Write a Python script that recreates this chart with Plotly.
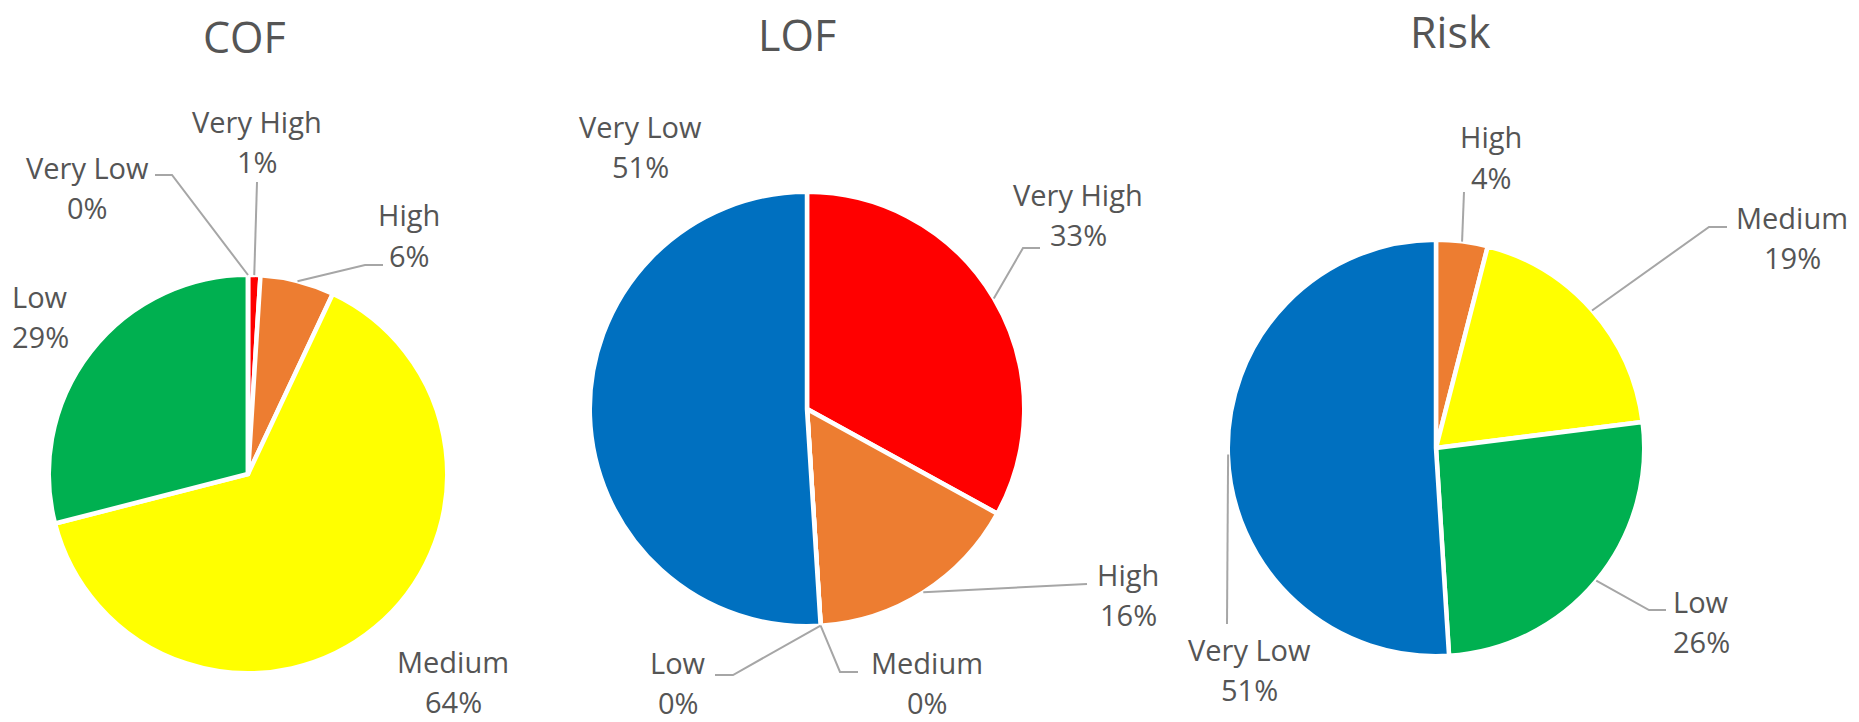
import math
import plotly.graph_objects as go

# ---------------- data ----------------
cof_labels = ["Very High", "High", "Medium", "Low", "Very Low"]
cof_values = [1, 6, 64, 29, 0]

lof_labels = ["Very High", "High", "Medium", "Low", "Very Low"]
lof_values = [33, 16, 0, 0, 51]

risk_labels = ["High", "Medium", "Low", "Very Low"]
risk_values = [4, 19, 26, 51]

titles = ["COF", "LOF", "Risk"]

# ---------------- styles / layout ----------------
W, H = 1859, 722
COLORS = {"Very High": "#FF0000", "High": "#ED7D31", "Medium": "#FFFF00",
          "Low": "#00B050", "Very Low": "#0070C0"}
TXT = "#555555"
LEADER = "#A6A6A6"
FONT = "Open Sans"
BORDER = 4.5
LABEL_SIZE = 29
LINE_GAP = 40

# pie geometry (pixels): center x, center y, visible radius
geom = {
    "COF": (248, 474, 197),
    "LOF": (807, 409, 215),
    "Risk": (1436, 448, 206),
}
title_pos = {"COF": (245, 37), "LOF": (797, 35), "Risk": (1450, 31)}

# label block centers and leader-line bend points (pixels)
label_layout = {
    "COF": {
        "Very High": ((257, 142), [(257, 182)]),
        "High": ((409, 235), [(365, 265), (383, 265)]),
        "Medium": ((453, 681), []),
        "Low": ((40, 316), []),
        "Very Low": ((87, 187), [(172, 175), (155, 175)]),
    },
    "LOF": {
        "Very High": ((1078, 214), [(1023, 248), (1040, 248)]),
        "High": ((1128, 594), [(1087, 584)]),
        "Medium": ((927, 682), [(840, 672), (858, 672)]),
        "Low": ((678, 682), [(733, 675), (715, 675)]),
        "Very Low": ((640, 146), []),
    },
    "Risk": {
        "High": ((1491, 157), [(1464, 192)]),
        "Medium": ((1792, 237), [(1709, 227), (1727, 227)]),
        "Low": ((1701, 621), [(1649, 610), (1666, 610)]),
        "Very Low": ((1249, 669), [(1227, 624)]),
    },
}

charts = [
    ("COF", cof_labels, cof_values),
    ("LOF", lof_labels, lof_values),
    ("Risk", risk_labels, risk_values),
]


def px(x):
    return x / W


def py(y):
    return 1 - y / H


def text_ann(x, y, text, size):
    return dict(x=px(x), y=py(y), xref="paper", yref="paper", text=text,
                showarrow=False, xanchor="center", yanchor="middle",
                font=dict(family=FONT, size=size, color=TXT))


fig = go.Figure()
annotations = []
shapes = []

for name, labels, values in charts:
    cx, cy, r = geom[name]
    rd = r + BORDER / 2
    fig.add_trace(go.Pie(
        labels=labels,
        values=values,
        sort=False,
        direction="clockwise",
        rotation=0,
        textinfo="none",
        marker=dict(colors=[COLORS[l] for l in labels],
                    line=dict(color="white", width=BORDER)),
        domain=dict(x=[px(cx - rd), px(cx + rd)],
                    y=[(H - cy - rd) / H, (H - cy + rd) / H]),
        showlegend=False,
        name=name,
    ))

    total = float(sum(values))
    cum = 0.0
    for lab, val in zip(labels, values):
        mid = (cum + val / 2.0) / total
        cum += val
        (tx, ty), bends = label_layout[name][lab]
        annotations.append(text_ann(tx, ty - LINE_GAP / 2, lab, LABEL_SIZE))
        annotations.append(text_ann(tx, ty + LINE_GAP / 2, f"{val:.0f}%", LABEL_SIZE))
        if bends:
            ang = 2 * math.pi * mid
            sx = cx + (r + 2) * math.sin(ang)
            sy = cy - (r + 2) * math.cos(ang)
            pts = [(sx, sy)] + bends
            path = "M " + " L ".join(f"{px(a):.5f},{py(b):.5f}" for a, b in pts)
            shapes.append(dict(type="path", path=path, xref="paper", yref="paper",
                               line=dict(color=LEADER, width=2)))

for name in titles:
    tx, ty = title_pos[name]
    annotations.append(text_ann(tx, ty, name, 43))

fig.update_layout(
    width=W, height=H,
    margin=dict(l=0, r=0, t=0, b=0),
    paper_bgcolor="white", plot_bgcolor="white",
    annotations=annotations, shapes=shapes,
    font=dict(family=FONT, color=TXT),
)

fig.write_html(
    "out.html",
    config={"displayModeBar": False},
    post_script="document.body.style.margin='0';document.body.style.overflow='hidden';",
)
